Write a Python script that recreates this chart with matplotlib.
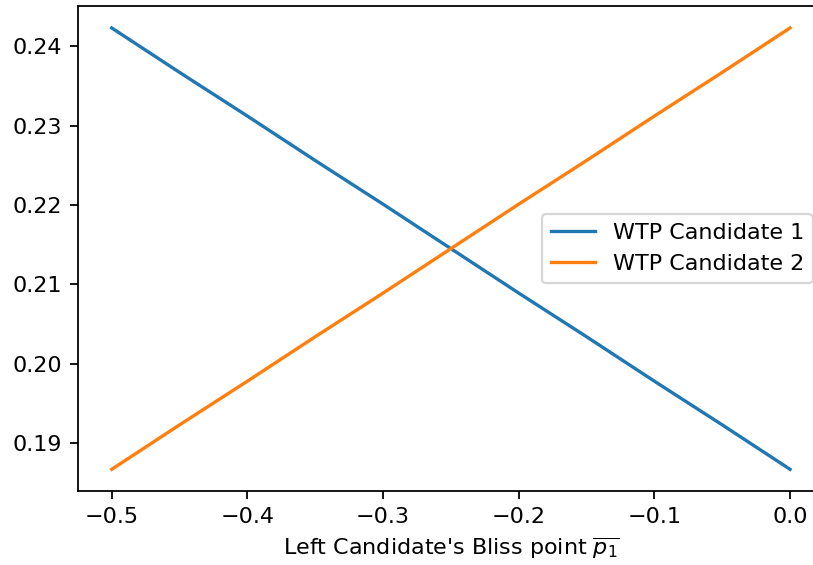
import matplotlib
matplotlib.use("Agg")
import matplotlib.pyplot as plt

# bliss point of the left candidate
bliss = [-0.5, -0.45, -0.4, -0.35, -0.3, -0.25, -0.2, -0.15, -0.1, -0.05, 0.0]
wtp_1 = [0.2423, 0.2367, 0.2312, 0.2256, 0.2201, 0.2145, 0.2089, 0.2034, 0.1978, 0.1923, 0.1867]
wtp_2 = [0.1867, 0.1923, 0.1978, 0.2034, 0.2089, 0.2145, 0.2201, 0.2256, 0.2312, 0.2367, 0.2423]

DPI = 160
fig = plt.figure(figsize=(813 / DPI, 565 / DPI), dpi=DPI)
ax = fig.add_axes([0.0957, 0.1303, 0.9178, 0.8593])

ax.plot(bliss, wtp_1, label='WTP Candidate 1')
ax.plot(bliss, wtp_2, label='WTP Candidate 2')

ax.set_xlabel("Left Candidate's Bliss point $\\overline{p_1}$")
ax.legend(loc='center right')

fig.savefig('out.png', dpi=DPI)
